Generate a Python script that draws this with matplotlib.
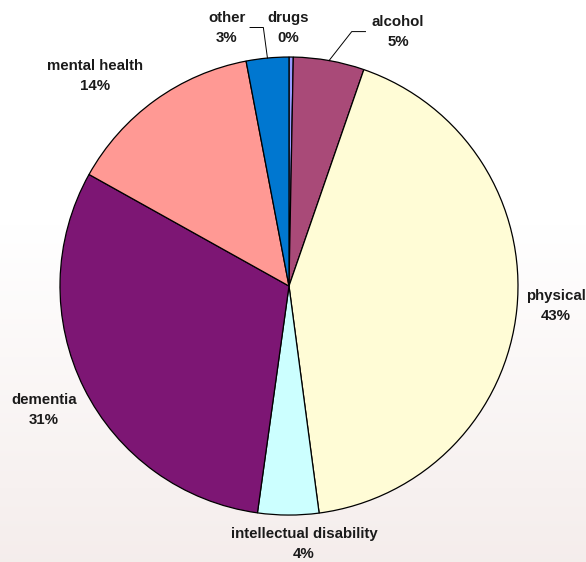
import numpy as np
import matplotlib
matplotlib.use('Agg')
from matplotlib import pyplot as plt

plt.rcParams['font.family'] = ['Liberation Sans', 'DejaVu Sans']

# slices clockwise from 12 o'clock
categories = ['drugs', 'alcohol', 'physical', 'intellectual disability',
              'dementia', 'mental health', 'other']
shares = [0.3, 5.0, 42.6, 4.3, 30.9, 13.9, 3.0]
colors = ['#9999ff', '#a94a78', '#fffcd6', '#ccffff', '#7d1674', '#ff9994', '#0077d0']

# label centres (data units, pie radius = 1)
label_pos = [(-0.004, 1.127), (0.476, 1.111), (1.166, -0.087), (0.066, -1.128),
             (-1.070, -0.541), (-0.847, 0.919), (-0.271, 1.127)]
# leader lines: slice index -> elbow point, end point
leaders = {1: [(0.274, 1.111), (0.334, 1.111)],
           6: [(-0.112, 1.129), (-0.170, 1.129)]}

fig = plt.figure(figsize=(5.86, 5.62), dpi=100)

# background gradient
bg = fig.add_axes([0, 0, 1, 1])
grad = np.linspace(0, 1, 256)
grad = np.clip((grad - 0.4) / 0.6, 0, 1)[:, None]
top = np.array([1.0, 1.0, 1.0])
bot = np.array([0.96, 0.93, 0.925])
img = top + (bot - top) * grad[..., None]
bg.imshow(img.repeat(2, axis=1), aspect='auto', extent=[0, 1, 0, 1], origin='upper')
bg.axis('off')

ax = fig.add_axes([0, 0, 1, 1])
ax.set_facecolor('none')
wedges, _ = ax.pie(shares, colors=colors, startangle=90, counterclock=False,
                   radius=1, wedgeprops=dict(edgecolor='black', linewidth=0.9))
ax.set_xlim(-1.262, 1.297)
ax.set_ylim(-1.205, 1.249)
ax.set_aspect('equal', adjustable='datalim')
ax.axis('off')

total = sum(shares)
for i, (name, val) in enumerate(zip(categories, shares)):
    x, y = label_pos[i]
    ax.text(x, y, f'{name}\n{round(val / total * 100):.0f}%', ha='center', va='center',
            fontsize=10.8, fontweight='bold', color='#1a1a1a', linespacing=1.55)

cum = np.cumsum([0] + shares)
for i, pts in leaders.items():
    mid = (cum[i] + cum[i + 1]) / 2 / total * 2 * np.pi
    sx, sy = np.sin(mid), np.cos(mid)
    xs = [sx] + [p[0] for p in pts]
    ys = [sy] + [p[1] for p in pts]
    ax.plot(xs, ys, color='black', linewidth=0.7)

fig.savefig('out.png', dpi=100)
